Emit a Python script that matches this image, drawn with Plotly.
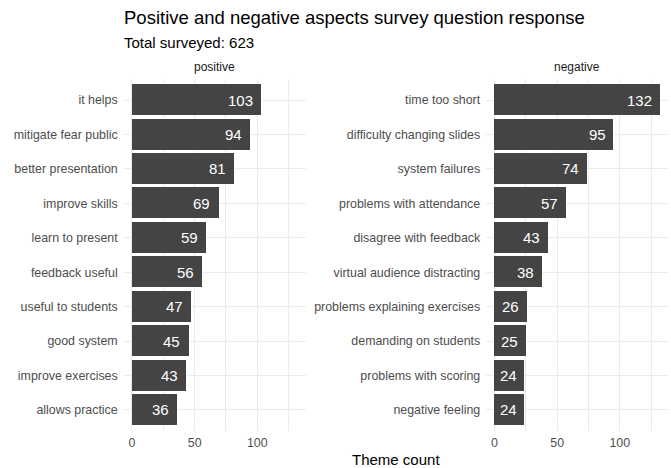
import plotly.graph_objects as go

pos_labels = ["it helps", "mitigate fear public", "better presentation", "improve skills",
              "learn to present", "feedback useful", "useful to students", "good system",
              "improve exercises", "allows practice"]
pos_values = [103, 94, 81, 69, 59, 56, 47, 45, 43, 36]

neg_labels = ["time too short", "difficulty changing slides", "system failures",
              "problems with attendance", "disagree with feedback", "virtual audience distracting",
              "problems explaining exercises", "demanding on students", "problems with scoring",
              "negative feeling"]
neg_values = [132, 95, 74, 57, 43, 38, 26, 25, 24, 24]

facet_names = ["positive", "negative"]
x_ticks = [0, 50, 100]

W, H = 671, 468
FONT = "Liberation Sans, Arial, sans-serif"
BAR = "#444444"
GRID = "#EBEBEB"

fig = go.Figure()
fig.add_trace(go.Bar(x=pos_values, y=pos_labels, orientation="h", marker_color=BAR,
                     marker_line_width=0, width=0.9, xaxis="x", yaxis="y", hoverinfo="x+y"))
fig.add_trace(go.Bar(x=neg_values, y=neg_labels, orientation="h", marker_color=BAR,
                     marker_line_width=0, width=0.9, xaxis="x2", yaxis="y2", hoverinfo="x+y"))

ann = []
for xa, ya, labs, vals in [("x", "y", pos_labels, pos_values), ("x2", "y2", neg_labels, neg_values)]:
    for lab, v in zip(labs, vals):
        ann.append(dict(x=v, y=lab, xref=xa, yref=ya, text=str(v), showarrow=False,
                        xanchor="right", xshift=-6, font=dict(family=FONT, size=15, color="white")))

top_px, bot_px = 79.4, 430.6
ydom = [(H - bot_px) / H, (H - top_px) / H]
xdom1 = [123.7 / W, 305.7 / W]
xdom2 = [486.2 / W, 668.2 / W]

for name, dom in zip(facet_names, [xdom1, xdom2]):
    ann.append(dict(x=(dom[0] + dom[1]) / 2, y=(H - 67) / H, xref="paper", yref="paper",
                    text=name, showarrow=False, xanchor="center", yanchor="middle",
                    font=dict(family=FONT, size=12, color="#1A1A1A")))

ann.append(dict(x=(xdom1[0] + xdom2[1]) / 2, y=(H - 459) / H, xref="paper", yref="paper",
                text="Theme count", showarrow=False, xanchor="center", yanchor="middle",
                font=dict(family=FONT, size=15, color="black")))
ann.append(dict(x=121.5 / W, y=(H - 18) / H, xref="paper", yref="paper",
                text="Positive and negative aspects survey question response", showarrow=False,
                xanchor="left", yanchor="middle", font=dict(family=FONT, size=18.5, color="black")))
ann.append(dict(x=121.5 / W, y=(H - 42) / H, xref="paper", yref="paper",
                text="Total surveyed: 623", showarrow=False,
                xanchor="left", yanchor="middle", font=dict(family=FONT, size=15, color="black")))

xaxis_common = dict(range=[-6.6, 138.6], tickvals=x_ticks, showgrid=True, gridcolor=GRID,
                    gridwidth=1, zeroline=False, showline=False, ticks="",
                    tickfont=dict(family=FONT, size=12.4, color="#4D4D4D"),
                    ticklabelstandoff=3,
                    minor=dict(tickvals=[25, 75, 125], showgrid=True, gridcolor=GRID, gridwidth=0.6),
                    fixedrange=True)
yaxis_common = dict(type="category", autorange=False, range=[9.6, -0.6], showgrid=True,
                    gridcolor=GRID, gridwidth=1, zeroline=False, showline=False, ticks="",
                    tickfont=dict(family=FONT, size=12.4, color="#4D4D4D"),
                    ticklabelstandoff=5, domain=ydom, fixedrange=True)

fig.update_layout(
    width=W, height=H,
    margin=dict(l=0, r=0, t=0, b=0),
    paper_bgcolor="white", plot_bgcolor="white",
    showlegend=False,
    bargap=0,
    xaxis=dict(domain=xdom1, anchor="y", **xaxis_common),
    xaxis2=dict(domain=xdom2, anchor="y2", **xaxis_common),
    yaxis=dict(anchor="x", categoryarray=pos_labels, categoryorder="array", **yaxis_common),
    yaxis2=dict(anchor="x2", categoryarray=neg_labels, categoryorder="array", **yaxis_common),
    annotations=ann,
    font=dict(family=FONT),
)

fig.write_html("out.html", config={"displayModeBar": False},
               post_script="document.body.style.margin='0';document.body.style.padding='0';")
